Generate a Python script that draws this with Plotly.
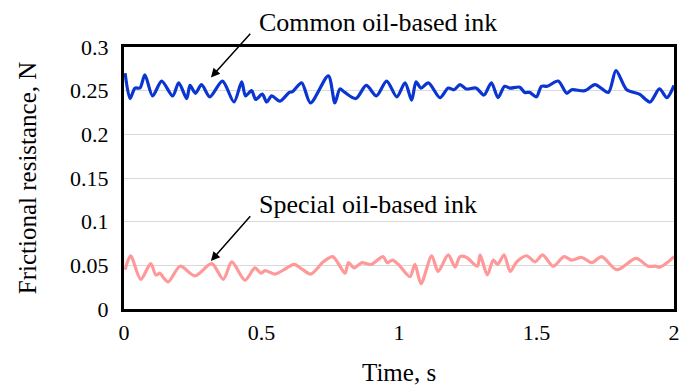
import plotly.graph_objects as go

# pixel-read samples converted to data (time s, force N)
common_t = [0.004, 0.022, 0.040, 0.058, 0.076, 0.104, 0.137, 0.177, 0.199, 0.228, 0.240, 0.260,
            0.282, 0.312, 0.358, 0.400, 0.428, 0.442, 0.464, 0.479, 0.503, 0.519, 0.537, 0.567,
            0.601, 0.613, 0.646, 0.678, 0.743, 0.767, 0.785, 0.803, 0.843, 0.881, 0.918, 0.955,
            0.992, 1.022, 1.046, 1.062, 1.080, 1.107, 1.149, 1.179, 1.200, 1.222, 1.244,
            1.280, 1.309, 1.336, 1.360, 1.384, 1.403, 1.439, 1.457, 1.475, 1.500, 1.518, 1.539,
            1.579, 1.610, 1.628, 1.676, 1.713, 1.761, 1.789, 1.828, 1.874, 1.913, 1.947, 1.974, 2.000]
common_v = [0.270, 0.241, 0.253, 0.253, 0.268, 0.244, 0.261, 0.244, 0.259, 0.241, 0.256, 0.247,
            0.257, 0.243, 0.261, 0.237, 0.260, 0.244, 0.250, 0.240, 0.246, 0.237, 0.244, 0.238,
            0.248, 0.249, 0.259, 0.236, 0.267, 0.236, 0.252, 0.248, 0.241, 0.256, 0.244, 0.261,
            0.243, 0.259, 0.239, 0.260, 0.253, 0.259, 0.242, 0.253, 0.251, 0.257, 0.252,
            0.253, 0.245, 0.259, 0.242, 0.255, 0.253, 0.254, 0.248, 0.248, 0.243, 0.255, 0.255,
            0.261, 0.247, 0.251, 0.250, 0.257, 0.248, 0.273, 0.251, 0.246, 0.237, 0.252, 0.242, 0.256]

special_t = [0.004, 0.024, 0.061, 0.097, 0.116, 0.131, 0.143, 0.161, 0.204, 0.258, 0.319, 0.361,
             0.392, 0.440, 0.476, 0.498, 0.513, 0.549, 0.592, 0.619, 0.646, 0.679, 0.725, 0.759,
             0.804, 0.816, 0.837, 0.864, 0.899, 0.942, 0.957, 0.976, 0.998, 1.040, 1.058, 1.080,
             1.119, 1.142, 1.179, 1.204, 1.222, 1.246, 1.285, 1.295, 1.321, 1.343, 1.358, 1.382,
             1.404, 1.428, 1.464, 1.495, 1.522, 1.561, 1.600, 1.628, 1.665, 1.701, 1.737, 1.792,
             1.862, 1.906, 1.931, 1.949, 1.979, 2.000]
special_v = [0.045, 0.061, 0.034, 0.052, 0.039, 0.041, 0.036, 0.031, 0.049, 0.038, 0.052, 0.034,
             0.054, 0.033, 0.047, 0.041, 0.044, 0.040, 0.047, 0.051, 0.046, 0.040, 0.054, 0.060,
             0.041, 0.053, 0.047, 0.053, 0.051, 0.060, 0.053, 0.056, 0.051, 0.037, 0.051, 0.029,
             0.061, 0.043, 0.062, 0.048, 0.060, 0.059, 0.049, 0.062, 0.039, 0.056, 0.051, 0.062,
             0.043, 0.054, 0.061, 0.054, 0.062, 0.049, 0.060, 0.056, 0.059, 0.053, 0.060, 0.045,
             0.058, 0.049, 0.049, 0.048, 0.054, 0.060]

y_ticks = [0, 0.05, 0.1, 0.15, 0.2, 0.25, 0.3]
y_ticktext = ["0", "0.05", "0.1", "0.15", "0.2", "0.25", "0.3"]
x_ticks = [0, 0.5, 1, 1.5, 2]
x_ticktext = ["0", "0.5", "1", "1.5", "2"]

font_family = "Liberation Serif, Times New Roman, serif"

fig = go.Figure()
fig.add_trace(go.Scatter(x=common_t, y=common_v, mode="lines",
                         line=dict(color="#0a35d0", width=3.2, shape="spline", smoothing=0.8),
                         name="Common oil-based ink", showlegend=False))
fig.add_trace(go.Scatter(x=special_t, y=special_v, mode="lines",
                         line=dict(color="#ff9999", width=3.2, shape="spline", smoothing=0.8),
                         name="Special oil-based ink", showlegend=False))

fig.update_layout(
    width=680, height=387,
    margin=dict(l=124, r=6, t=47, b=78, autoexpand=False),
    paper_bgcolor="white", plot_bgcolor="white",
    font=dict(family=font_family, size=22, color="black"),
    xaxis=dict(range=[0, 2], tickvals=x_ticks, ticktext=x_ticktext, automargin=False,
               showgrid=False, zeroline=False, showline=True, linecolor="black",
               linewidth=3, mirror=True, ticks="", ticklen=0, ticklabelstandoff=2),
    yaxis=dict(range=[0, 0.3], tickvals=y_ticks, ticktext=y_ticktext, automargin=False,
               showgrid=True, gridcolor="#d9d9d9", gridwidth=1,
               zeroline=False, showline=True, linecolor="black",
               linewidth=3, mirror=True, ticks="", ticklen=0, ticklabelstandoff=8),
    annotations=[
        dict(x=0.316, y=0.265, xref="x", yref="y", ax=0.464, ay=0.317, axref="x", ayref="y",
             text="", showarrow=True, arrowhead=2, arrowsize=1.2, arrowwidth=1.5, arrowcolor="black"),
        dict(x=0.242, y=1.095, xref="paper", yref="paper", text="Common oil-based ink",
             showarrow=False, xanchor="left", yanchor="middle", font=dict(size=26)),
        dict(x=0.316, y=0.055, xref="x", yref="y", ax=0.464, ay=0.108, axref="x", ayref="y",
             text="", showarrow=True, arrowhead=2, arrowsize=1.2, arrowwidth=1.5, arrowcolor="black"),
        dict(x=0.242, y=0.397, xref="paper", yref="paper", text="Special oil-based ink",
             showarrow=False, xanchor="left", yanchor="middle", font=dict(size=26)),
        dict(x=-0.176, y=0.5, xref="paper", yref="paper", text="Frictional resistance, N",
             showarrow=False, xanchor="center", yanchor="middle", textangle=-90, font=dict(size=25)),
        dict(x=0.5, y=-0.244, xref="paper", yref="paper", text="Time, s",
             showarrow=False, xanchor="center", yanchor="middle", font=dict(size=25)),
    ],
)

fig.write_html("out.html")
